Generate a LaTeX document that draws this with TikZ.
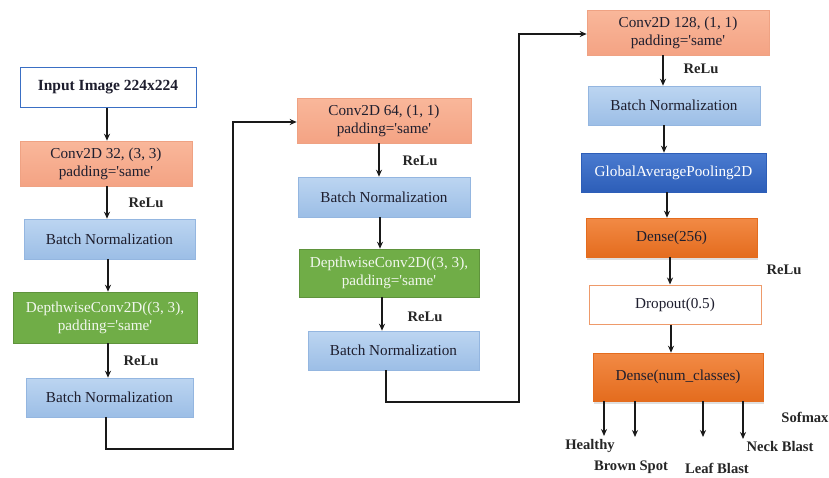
\documentclass[tikz,border=0pt]{standalone}
\usepackage{fontspec}
\setmainfont{Liberation Serif}[Ligatures=TeXOff]
\usetikzlibrary{arrows.meta,shadows}
\definecolor{salmonT}{HTML}{F9B79A}
\definecolor{salmonB}{HTML}{F4A384}
\definecolor{salmonD}{HTML}{EFA283}
\definecolor{bnT}{HTML}{BCD5F1}
\definecolor{bnB}{HTML}{9CBEE6}
\definecolor{bnD}{HTML}{94B6E0}
\definecolor{grn}{HTML}{70AD47}
\definecolor{gapT}{HTML}{4A7BD0}
\definecolor{gapB}{HTML}{2D5EB8}
\definecolor{orT}{HTML}{F28A45}
\definecolor{orB}{HTML}{E46C1E}
\definecolor{inB}{HTML}{3A6FC4}
\definecolor{drB}{HTML}{EE9A6A}
\definecolor{txt}{HTML}{1E1E2E}
\begin{document}
\begin{tikzpicture}[x=1pt,y=-1pt,
  every node/.style={font=\fontsize{15.2}{18}\selectfont, text=txt, align=center, inner sep=0pt},
  inbox/.style={draw=inB, line width=1pt, fill=white, font=\fontsize{15.5}{18}\selectfont\bfseries},
  convbox/.style={draw=salmonD, line width=0.6pt, top color=salmonT, bottom color=salmonB},
  bnbox/.style={draw=bnD, line width=0.6pt, top color=bnT, bottom color=bnB},
  dwbox/.style={draw=grn!85!black, line width=0.6pt, fill=grn, text=white!90!grn},
  gapbox/.style={draw=gapB, line width=0.6pt, top color=gapT, bottom color=gapB, text=white},
  densebox/.style={draw=orB, line width=0.6pt, top color=orT, bottom color=orB,
    drop shadow={opacity=0.25, shadow xshift=1pt, shadow yshift=-2.5pt}},
  dropbox/.style={draw=drB, line width=1pt, fill=white},
  lbl/.style={font=\fontsize{14.6}{16}\selectfont\bfseries, text=black!85},
  arr/.style={line width=1.5pt, -{Stealth[length=7pt,width=6pt]}, black!90},
  ln/.style={line width=1.5pt, black!90}
]
\useasboundingbox (0,0) rectangle (829,477);
\fill[white] (0,0) rectangle (829,477);

% column 1
\node[inbox, minimum width=176, minimum height=40] (in) at (108,87) {Input Image 224x224};
\node[convbox, minimum width=172, minimum height=45] (c1) at (106,163.5) {Conv2D 32, (3, 3)\\padding='same'};
\node[bnbox, minimum width=171, minimum height=40] (bn1) at (109.5,239) {Batch Normalization};
\node[dwbox, minimum width=184, minimum height=51] (dw1) at (105,317.5) {DepthwiseConv2D((3, 3),\\padding='same'};
\node[bnbox, minimum width=167, minimum height=39] (bn2) at (109.5,397.5) {Batch Normalization};
\node[lbl] (r1) at (146,203) {ReLu};
\node[lbl] (r2) at (141,361) {ReLu};

\draw[arr] (in.south -| 107,0) -- (c1.north -| 107,0);
\draw[arr] (c1.south -| 107,0) -- (bn1.north -| 107,0);
\draw[arr] (bn1.south -| 108,0) -- (dw1.north -| 108,0);
\draw[arr] (dw1.south -| 108,0) -- (bn2.north -| 108,0);

% column 2
\node[convbox, minimum width=174, minimum height=45] (c2) at (384,120.5) {Conv2D 64, (1, 1)\\padding='same'};
\node[bnbox, minimum width=172, minimum height=40] (bn3) at (384,197) {Batch Normalization};
\node[dwbox, minimum width=180, minimum height=48] (dw2) at (389,273) {DepthwiseConv2D((3, 3),\\padding='same'};
\node[bnbox, minimum width=171, minimum height=39] (bn4) at (393.5,350.5) {Batch Normalization};
\node[lbl] (r3) at (420,161) {ReLu};
\node[lbl] (r4) at (425,317) {ReLu};

\draw[arr] (c2.south -| 379,0) -- (bn3.north -| 379,0);
\draw[arr] (bn3.south -| 380,0) -- (dw2.north -| 380,0);
\draw[arr] (dw2.south -| 382,0) -- (bn4.north -| 382,0);

% column 3
\node[convbox, minimum width=182, minimum height=45] (c3) at (678,32.5) {Conv2D 128, (1, 1)\\padding='same'};
\node[bnbox, minimum width=172, minimum height=39] (bn5) at (674,105.5) {Batch Normalization};
\node[gapbox, minimum width=185, minimum height=39] (gap) at (673.5,172.5) {GlobalAveragePooling2D};
\node[densebox, minimum width=171, minimum height=39] (d1) at (671.5,237.5) {Dense(256)};
\node[dropbox, minimum width=172, minimum height=39] (dr) at (675,304.5) {Dropout(0.5)};
\node[densebox, minimum width=170, minimum height=48] (d2) at (678,377) {Dense(num\_classes)};
\node[lbl] (r5) at (701,69) {ReLu};
\node[lbl] (r6) at (784,270) {ReLu};
\node[lbl] (sm) at (805,417) {Sofmax};

\draw[arr] (c3.south -| 663,0) -- (bn5.north -| 663,0);
\draw[arr] (bn5.south -| 664,0) -- (gap.north -| 664,0);
\draw[arr] (gap.south -| 667,0) -- (d1.north -| 667,0);
\draw[arr] (d1.south -| 670,0) -- (dr.north -| 670,0);
\draw[arr] (dr.south -| 671,0) -- (d2.north -| 671,0);

% outputs
\node[lbl] (o1) at (590,446) {Healthy};
\node[lbl] (o2) at (631,467) {Brown Spot};
\node[lbl] (o3) at (717,468) {Leaf Blast};
\node[lbl] (o4) at (780,446) {Neck Blast};
\coordinate (e1) at (604,436);
\coordinate (e2) at (635,437);
\coordinate (e3) at (703,437);
\coordinate (e4) at (743,439);
\draw[arr] (d2.south -| e1) -- (e1);
\draw[arr] (d2.south -| e2) -- (e2);
\draw[arr] (d2.south -| e3) -- (e3);
\draw[arr] (d2.south -| e4) -- (e4);

% connectors between columns
\draw[arr] (bn2.south -| 106,0) -- (106,449) -- (233,449) -- (233,122) -- (c2.west |- 0,122);
\draw[arr] (bn4.south -| 386,0) -- (386,402) -- (519,402) -- (519,34) -- (c3.west |- 0,34);
\end{tikzpicture}
\end{document}
